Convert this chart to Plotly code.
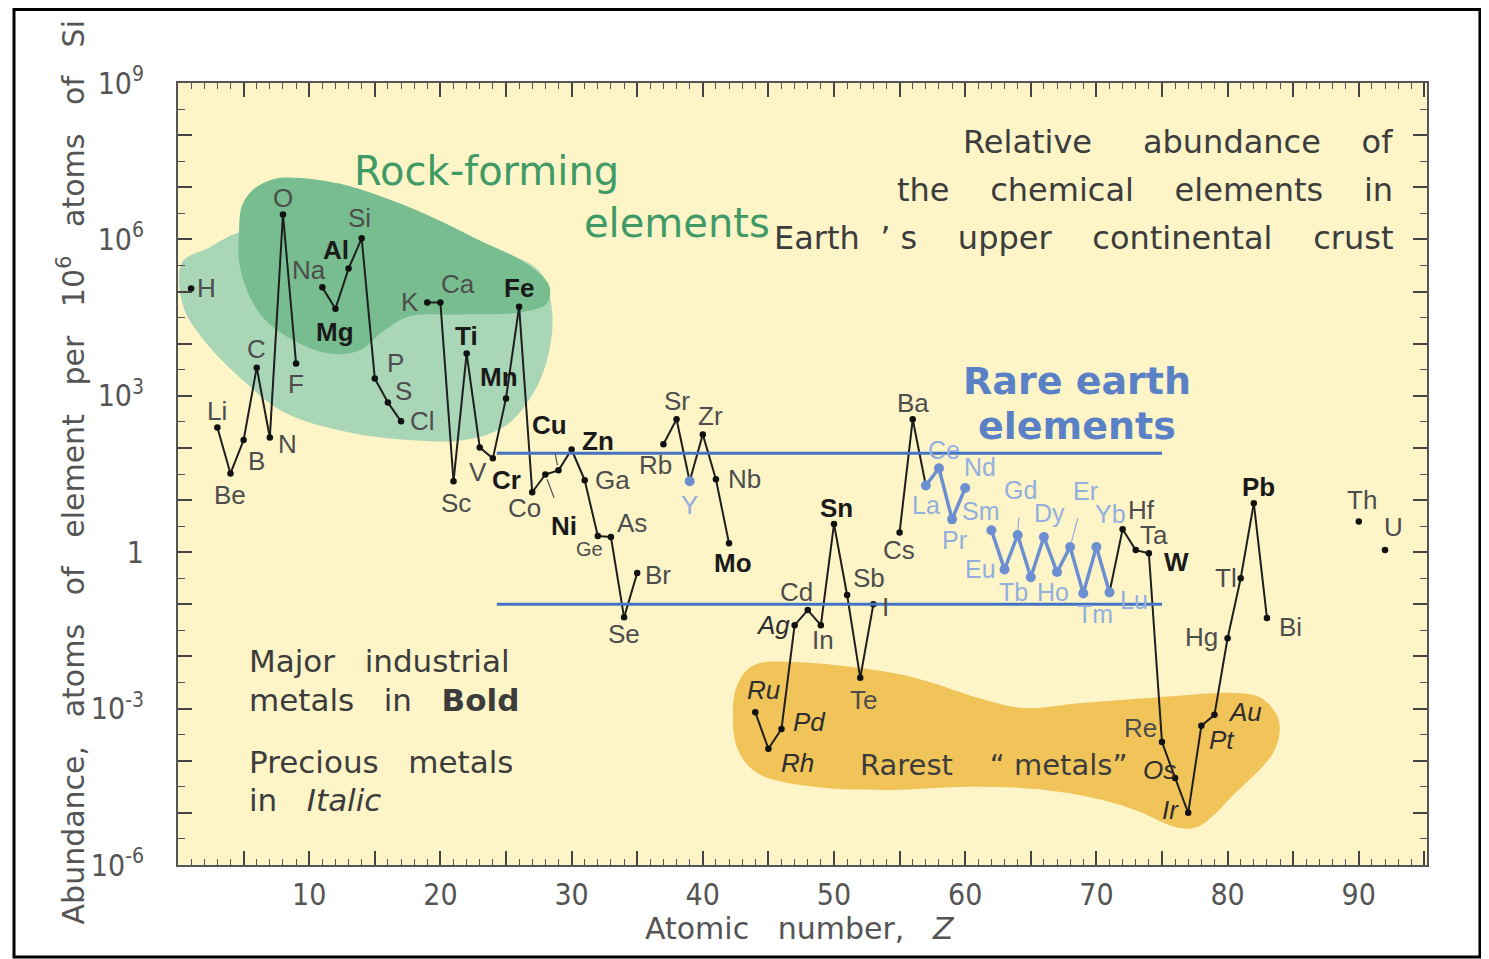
import plotly.graph_objects as go

# ---------------- data ----------------
symbols = ["H", "Li", "Be", "B", "C", "N", "O", "F",
           "Na", "Mg", "Al", "Si", "P", "S", "Cl",
           "K", "Ca", "Sc", "Ti", "V", "Cr", "Mn", "Fe", "Co", "Ni", "Cu", "Zn", "Ga", "Ge", "As", "Se", "Br",
           "Rb", "Sr", "Y", "Zr", "Nb", "Mo",
           "Ru", "Rh", "Pd", "Ag", "Cd", "In", "Sn", "Sb", "Te", "I",
           "Cs", "Ba", "La", "Ce", "Pr", "Nd",
           "Sm", "Eu", "Gd", "Tb", "Dy", "Ho", "Er", "Tm", "Yb", "Lu", "Hf", "Ta", "W", "Re", "Os", "Ir",
           "Pt", "Au", "Hg", "Tl", "Pb", "Bi",
           "Th", "U"]
atomic_numbers = [1, 3, 4, 5, 6, 7, 8, 9,
                  11, 12, 13, 14, 15, 16, 17,
                  19, 20, 21, 22, 23, 24, 25, 26, 27, 28, 29, 30, 31, 32, 33, 34, 35,
                  37, 38, 39, 40, 41, 42,
                  44, 45, 46, 47, 48, 49, 50, 51, 52, 53,
                  55, 56, 57, 58, 59, 60,
                  62, 63, 64, 65, 66, 67, 68, 69, 70, 71, 72, 73, 74, 75, 76, 77,
                  78, 79, 80, 81, 82, 83,
                  90, 92]
# log10 of abundance (atoms per 10^6 atoms of Si)
log10_abundance = [5.06, 2.39, 1.51, 2.15, 3.54, 2.20, 6.48, 3.62,
                   5.08, 4.67, 5.44, 6.02, 3.33, 2.87, 2.51,
                   4.79, 4.79, 1.36, 3.81, 2.01, 1.80, 2.95, 4.71, 1.15, 1.49, 1.57, 1.97, 1.38, 0.31, 0.29, -1.25, -0.40,
                   2.07, 2.55, 1.36, 2.26, 1.40, 0.17,
                   -3.07, -3.77, -3.39, -1.40, -1.11, -1.40, 0.54, -0.82, -2.41, -1.00,
                   0.38, 2.55, 1.28, 1.61, 0.63, 1.23,
                   0.42, -0.33, 0.33, -0.48, 0.29, -0.38, 0.10, -0.79, 0.10, -0.77, 0.44, 0.04, -0.02, -3.64, -4.33, -5.00,
                   -3.33, -3.12, -1.65, -0.50, 0.94, -1.26,
                   0.59, 0.04]
assert len(symbols) == len(atomic_numbers) == len(log10_abundance)

bold_metals = {"Mg", "Al", "Ti", "Cr", "Mn", "Fe", "Ni", "Cu", "Zn", "Mo", "Sn", "W", "Pb"}
precious_metals = {"Ru", "Rh", "Pd", "Ag", "Os", "Ir", "Pt", "Au"}
rare_earths = {"La", "Ce", "Pr", "Nd", "Sm", "Eu", "Gd", "Tb", "Dy", "Ho", "Er", "Tm", "Yb", "Lu"}
blue_points = rare_earths | {"Y"}

x_ticks = list(range(0, 96, 5))
x_ticktext = [str(v) if (v % 10 == 0 and v > 0) else "" for v in x_ticks]
y_ticks = list(range(-6, 10))
y_label_map = {-6: "10<sup>-6</sup>", -3: "10<sup>-3</sup>", 0: "1", 3: "10<sup>3</sup>",
               6: "10<sup>6</sup>", 9: "10<sup>9</sup>"}
y_ticktext = [y_label_map.get(v, "") for v in y_ticks]

# ---------------- styling: label placement offsets in px (dx right, dy up) ----------------
label_offsets = {
    "H": (15, 0), "Li": (0, 17), "Be": (0, -22), "B": (13, -21), "C": (0, 19), "N": (18, -6),
    "O": (0, 16), "F": (0, -21), "Na": (-13, 17), "Mg": (0, -23), "Al": (-13, 19), "Si": (-2, 20),
    "P": (21, 16), "S": (16, 12), "Cl": (21, 0), "K": (-17, 0), "Ca": (18, 18), "Sc": (2, -22),
    "Ti": (0, 18), "V": (-2, -25), "Cr": (14, -22), "Mn": (-7, 21), "Fe": (0, 19), "Co": (-8, -16),
    "Ni": (19, -51), "Cu": (-9, 45), "Zn": (26, 9), "Ga": (28, 0), "Ge": (-8, -13), "As": (21, 14),
    "Se": (0, -17), "Br": (21, -2), "Rb": (-8, -21), "Sr": (0, 18), "Y": (0, -24), "Zr": (8, 18),
    "Nb": (29, 0), "Mo": (4, -20), "Ru": (8, 22), "Rh": (29, -14), "Pd": (28, 7), "Ag": (-22, 0),
    "Cd": (-11, 18), "In": (2, -15), "Sn": (3, 16), "Sb": (22, 17), "Te": (3, -22), "I": (12, -3),
    "Cs": (-1, -18), "Ba": (0, 16), "La": (0, -20), "Ce": (5, 18), "Pr": (2, -21), "Nd": (15, 21),
    "Sm": (-10, 19), "Eu": (-24, 0), "Gd": (3, 45), "Tb": (-17, -15), "Dy": (6, 24), "Ho": (-4, -20),
    "Er": (15, 56), "Tm": (12, -21), "Yb": (14, 33), "Lu": (24, -8), "Hf": (19, 19), "Ta": (18, 15),
    "W": (28, -9), "Re": (-21, 14), "Os": (-16, 8), "Ir": (-18, 3), "Pt": (21, -14), "Au": (31, 3),
    "Hg": (-26, 1), "Tl": (-15, 0), "Pb": (5, 16), "Bi": (24, -9), "Th": (3, 21), "U": (8, 23),
}
leader_labels = {"Ni", "Cu", "Gd", "Er"}

# highlighted regions (outlines in axis units: Z, log10 abundance)
light_green_z = [0.31, 2.36, 4.65, 9.23, 20.7, 27.5, 28.5, 28.3, 27.2, 25.0, 21.8, 17.6, 13.0, 8.1, 5.2, 1.8, 0.38]
light_green_l = [5.56, 5.84, 6.13, 6.21, 5.98, 5.40, 4.64, 3.87, 3.10, 2.43, 2.15, 2.15, 2.30, 2.68, 3.24, 4.12, 4.73]
dark_green_z = [4.65, 4.88, 5.80, 7.32, 9.23, 12.3, 15.3, 19.1, 23.0, 26.4, 28.3, 28.1, 26.0, 21.4, 17.6, 15.7, 13.8,
                11.5, 8.85, 6.56, 5.26, 4.65]
dark_green_l = [6.13, 6.65, 6.97, 7.16, 7.18, 7.07, 6.84, 6.46, 5.98, 5.56, 5.11, 4.77, 4.60, 4.56, 4.52, 4.25, 3.87,
                3.81, 4.06, 4.48, 5.02, 5.59]
gold_z = [42.5, 43.2, 44.3, 47.4, 51.4, 55.0, 57.3, 61.6, 64.6, 69.0, 74.8, 80.6, 82.6, 83.9, 83.6, 80.6, 77.7, 76.0,
          73.3, 70.4, 66.1, 60.2, 54.3, 48.5, 44.1, 42.6, 42.3]
gold_l = [-2.64, -2.30, -2.13, -2.11, -2.20, -2.34, -2.49, -2.84, -2.99, -2.89, -2.78, -2.70, -2.80, -3.22, -3.79,
          -4.62, -5.27, -5.27, -4.98, -4.75, -4.56, -4.50, -4.56, -4.50, -4.23, -3.74, -3.03]
band_z = [24.3, 75.0]
band_levels = [1.90, -1.00]

NB = "\u00a0"
TXT = "DejaVu Sans"
LAB = "Liberation Sans, Arial, sans-serif"
NARROW = "Liberation Sans Narrow, DejaVu Sans Condensed, Liberation Sans"

fig = go.Figure()

for zs, ls, col in [(light_green_z, light_green_l, "#a9d6b6"),
                    (dark_green_z, dark_green_l, "#77bd8f"),
                    (gold_z, gold_l, "#f1c45a")]:
    fig.add_trace(go.Scatter(x=zs + [zs[0]], y=ls + [ls[0]], mode="lines", fill="toself",
                             fillcolor=col, line=dict(color=col, width=0, shape="spline", smoothing=1.0),
                             hoverinfo="skip", showlegend=False))

# connecting lines between consecutive elements
bx, by, rx, ry = [], [], [], []
for i in range(len(symbols) - 1):
    if atomic_numbers[i + 1] - atomic_numbers[i] == 1:
        if symbols[i] in rare_earths and symbols[i + 1] in rare_earths:
            rx += [atomic_numbers[i], atomic_numbers[i + 1], None]
            ry += [log10_abundance[i], log10_abundance[i + 1], None]
        else:
            bx += [atomic_numbers[i], atomic_numbers[i + 1], None]
            by += [log10_abundance[i], log10_abundance[i + 1], None]

fig.add_trace(go.Scatter(x=bx, y=by, mode="lines", line=dict(color="#1e1e1e", width=2),
                         hoverinfo="skip", showlegend=False))
fig.add_trace(go.Scatter(x=rx, y=ry, mode="lines", line=dict(color="#6c8fd2", width=3.5),
                         hoverinfo="skip", showlegend=False))

kx = [z for s, z in zip(symbols, atomic_numbers) if s not in blue_points]
ky = [v for s, v in zip(symbols, log10_abundance) if s not in blue_points]
fig.add_trace(go.Scatter(x=kx, y=ky, mode="markers", marker=dict(color="#111111", size=6.5),
                         showlegend=False))
ex = [z for s, z in zip(symbols, atomic_numbers) if s in blue_points]
ey = [v for s, v in zip(symbols, log10_abundance) if s in blue_points]
fig.add_trace(go.Scatter(x=ex, y=ey, mode="markers", marker=dict(color="#6c8fd2", size=10),
                         showlegend=False))

annotations = []
for s, z, v in zip(symbols, atomic_numbers, log10_abundance):
    dx, dy = label_offsets[s]
    txt = s
    color = "#4d4d4d"
    if s in bold_metals:
        txt = "<b>%s</b>" % s
        color = "#1a1a1a"
    elif s in precious_metals:
        txt = "<i>%s</i>" % s
        color = "#2e2e2e"
    elif s in blue_points:
        color = "#93afdf"
    size = 20 if s == "Ge" else (25 if s in rare_earths else 26)
    a = dict(x=z, y=v, xref="x", yref="y", text=txt, font=dict(family=LAB, size=size, color=color))
    if s in leader_labels:
        a.update(showarrow=True, ax=dx, ay=-dy, arrowhead=0, arrowwidth=1.2,
                 arrowcolor="#555555" if s not in rare_earths else "#93afdf", standoff=5, startstandoff=12)
    else:
        a.update(showarrow=False, xshift=dx, yshift=dy)
    annotations.append(a)


def txt_ann(x, y, text, size, color, xanchor="center", family=TXT):
    return dict(x=x, y=y, xref="x", yref="y", text=text, showarrow=False, xanchor=xanchor,
                yanchor="middle", font=dict(family=family, size=size, color=color))


G = "#409a66"
BL = "#5a80c6"
D = "#3c3c3c"
sp4 = " " + NB * 4
sp3 = " " + NB * 3
sp2 = " " + NB * 2
annotations += [
    txt_ann(23.5, 7.32, "Rock-forming", 40, G),
    txt_ann(38.0, 6.32, "elements", 40, G),
    txt_ann(92.75, 7.87, "Relative" + sp4 + "abundance" + sp3 + "of", 32, D, "right"),
    txt_ann(92.75, 6.95, "the" + sp3 + "chemical" + sp3 + "elements" + sp3 + "in", 32, D, "right"),
    txt_ann(92.75, 6.03, "Earth" + NB * 2 + "\u2019" + NB + "s" + sp3 + "upper" + sp3 + "continental" + sp3 + "crust",
            32, D, "right"),
    txt_ann(68.5, 3.28, "<b>Rare earth</b>", 38, BL),
    txt_ann(68.5, 2.43, "<b>elements</b>", 38, BL),
    txt_ann(5.26, -2.09, "Major" + sp2 + "industrial", 31, D, "left"),
    txt_ann(5.26, -2.84, "metals" + sp2 + "in" + sp2 + "<b>Bold</b>", 31, D, "left"),
    txt_ann(5.26, -4.02, "Precious" + sp2 + "metals", 31, D, "left"),
    txt_ann(5.26, -4.75, "in" + sp2 + "<i>Italic</i>", 31, D, "left"),
    txt_ann(51.8, -4.08, "Rarest" + NB * 4 + "\u201c" + NB + "metals\u201d", 29, D, "left"),
]
annotations += [
    dict(x=0.498, y=-0.081, xref="paper", yref="paper", text="Atomic" + sp2 + "number," + sp2 + "<i>Z</i>",
         showarrow=False, font=dict(family=TXT, size=30, color="#555555"), xanchor="center", yanchor="middle"),
    dict(x=-0.0845, y=0.5026, xref="paper", yref="paper", textangle=-90,
         text="Abundance," + sp2 + "atoms" + sp2 + "of" + sp2 + "element" + sp2 + "per" + sp2 + "10<sup>6</sup>"
              + sp2 + "atoms" + sp2 + "of" + sp2 + "Si",
         showarrow=False, font=dict(family=TXT, size=30, color="#555555"), xanchor="center", yanchor="middle"),
]

shapes = []
for lv in band_levels:
    shapes.append(dict(type="line", xref="x", yref="y", x0=band_z[0], x1=band_z[1], y0=lv, y1=lv,
                       line=dict(color="#4472c4", width=3), layer="above"))
# outer frame of the picture
shapes.append(dict(type="rect", xref="paper", yref="paper", x0=-0.1313, x1=1.0424, y0=-0.1176, y1=1.0940,
                   line=dict(color="#000000", width=3), fillcolor="rgba(0,0,0,0)"))

axis_common = dict(ticks="inside", ticklen=14, tickwidth=1.5, tickcolor="#444444", showline=True,
                   linecolor="#555555", linewidth=2, mirror="ticks", showgrid=False, zeroline=False,
                   tickfont=dict(family=NARROW, size=30, color="#555555"))

# page body has an 8px margin: size the figure so the plot area lands where the reference has it
fig.update_layout(
    width=1481, height=951,
    margin=dict(l=170, r=62, t=75, b=94),
    paper_bgcolor="white", plot_bgcolor="#fdf5c8",
    xaxis=dict(range=[0, 95.2], tickmode="array", tickvals=x_ticks, ticktext=x_ticktext,
               ticklabelstandoff=2,
               minor=dict(ticks="inside", ticklen=6, dtick=1, tickcolor="#555555", tickwidth=1),
               **axis_common),
    yaxis=dict(range=[-6, 9], tickmode="array", tickvals=y_ticks, ticktext=y_ticktext,
               ticklabelstandoff=26,
               minor=dict(ticks="inside", ticklen=7, dtick=0.5, tickcolor="#555555", tickwidth=1),
               **axis_common),
    annotations=annotations,
    shapes=shapes,
    showlegend=False,
)

fig.write_html("out.html")
